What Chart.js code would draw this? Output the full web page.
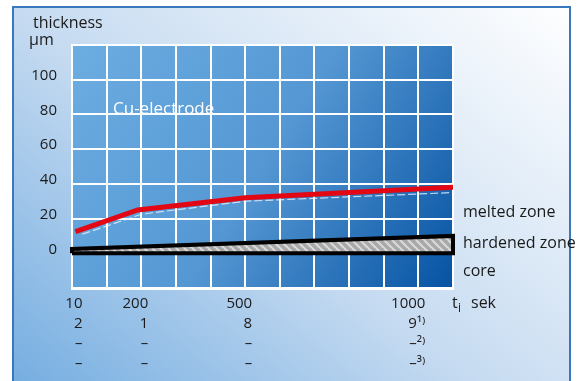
<!DOCTYPE html>
<html>
<head>
<meta charset="utf-8">
<script src="https://cdn.jsdelivr.net/npm/chart.js@4/dist/chart.umd.min.js"></script>
<style>
  html, body { margin: 0; padding: 0; background: #fff; }
  #wrap { width: 586px; height: 381px; }
</style>
</head>
<body>
<div id="wrap"><canvas id="thicknessChart" width="586" height="381"></canvas></div>
<script>
// Werte
const timeTicks = [10, 200, 500, 1000];
const row2 = ["2", "1", "8", "9\u00b9\u207e"];
const row3 = ["\u2013", "\u2013", "\u2013", "\u2013\u00b2\u207e"];
const row4 = ["\u2013", "\u2013", "\u2013", "\u2013\u00b3\u207e"];

const thicknessTicks = [0, 20, 40, 60, 80, 100];

const meltedTimes = [10, 190, 500, 800, 1100];
const meltedValues = [12.5, 25, 32, 35, 38];

const meltedInnerTimes = [30, 200, 500, 800, 1100];
const meltedInnerValues = [11, 22.5, 30, 32.5, 35];

const hardenedTimes = [0, 1100];
const hardenedTop = [2.5, 10];

const toPoints = (xs, ys) => xs.map((x, i) => ({ x: x, y: ys[i] }));

// geschlossene Fläche der gehärteten Zone
const hardenedShape = [
    { x: hardenedTimes[0], y: 0 },
    { x: hardenedTimes[0], y: hardenedTop[0] },
    { x: hardenedTimes[1], y: hardenedTop[1] },
    { x: hardenedTimes[1], y: 0 },
    { x: hardenedTimes[0], y: 0 }
];

// Schraffur-Muster
function makeHatch() {
    const c = document.createElement("canvas");
    c.width = 8; c.height = 8;
    const g = c.getContext("2d");
    g.fillStyle = "#a9a9a9";
    g.fillRect(0, 0, 8, 8);
    g.strokeStyle = "#d9d9d9";
    g.lineWidth = 2.2;
    g.beginPath();
    g.moveTo(-8, 0); g.lineTo(8, 16);
    g.moveTo(-1, -1); g.lineTo(9, 9);
    g.moveTo(8, 0); g.lineTo(16, 8);
    g.stroke();
    return g.createPattern(c, "repeat");
}

const FONT = "'Open Sans', 'DejaVu Sans', sans-serif";

const backgroundPlugin = {
    id: "backgrounds",
    beforeDraw(chart) {
        const ctx = chart.ctx;
        const a = chart.chartArea;
        ctx.save();
        ctx.fillStyle = "#ffffff";
        ctx.fillRect(0, 0, chart.width, chart.height);
        const og = ctx.createLinearGradient(13, 381, 420, -120);
        og.addColorStop(0, "#76aee1");
        og.addColorStop(0.45, "#c6dbf1");
        og.addColorStop(1, "#ffffff");
        ctx.fillStyle = og;
        ctx.fillRect(13, 7, 557, 380);
        ctx.strokeStyle = "#3a78bd";
        ctx.lineWidth = 2;
        ctx.strokeRect(13, 7, 557, 380);

        const pg = ctx.createLinearGradient(a.left, a.top, a.right, a.bottom);
        pg.addColorStop(0, "#6caee1");
        pg.addColorStop(0.5, "#5597d3");
        pg.addColorStop(1, "#0653a3");
        ctx.fillStyle = pg;
        ctx.fillRect(a.left, a.top, a.right - a.left, a.bottom - a.top);
        ctx.restore();
    }
};

const textPlugin = {
    id: "texts",
    afterDraw(chart) {
        const ctx = chart.ctx;
        const a = chart.chartArea;
        const yS = chart.scales.y;
        ctx.save();
        ctx.textBaseline = "middle";
        ctx.textAlign = "left";
        ctx.fillStyle = "#1a1a1a";
        ctx.font = "16px " + FONT;
        ctx.fillText("thickness", 33, 23);
        ctx.fillText("\u00b5m", 29, 40);

        ctx.fillStyle = "#ffffff";
        ctx.font = "17px " + FONT;
        ctx.fillText("Cu-electrode", 113, yS.getPixelForValue(83));

        ctx.fillStyle = "#1a1a1a";
        ctx.font = "16px " + FONT;
        const lx = a.right + 10;
        ctx.fillText("melted zone", lx, 212);
        ctx.fillText("hardened zone", lx, 243);
        ctx.fillText("core", lx, 271);

        ctx.font = "16px " + FONT;
        ctx.fillText("t", a.right - 1, 303);
        ctx.font = "12px " + FONT;
        ctx.fillText("i", a.right + 5, 309);
        ctx.font = "16px " + FONT;
        ctx.fillText("sek", a.right + 18, 303);
        ctx.restore();
    }
};

const ctx = document.getElementById("thicknessChart").getContext("2d");

new Chart(ctx, {
    type: "scatter",
    data: {
        datasets: [
            {
                label: "melted zone",
                data: toPoints(meltedTimes, meltedValues),
                showLine: true,
                borderColor: "#e30613",
                borderWidth: 5,
                pointRadius: 0,
                fill: false,
                order: 1
            },
            {
                label: "melted zone (inner)",
                data: toPoints(meltedInnerTimes, meltedInnerValues),
                showLine: true,
                borderColor: "rgba(230,242,252,0.8)",
                borderWidth: 1.2,
                borderDash: [8, 3],
                pointRadius: 0,
                fill: false,
                order: 2
            },
            {
                label: "hardened zone",
                data: hardenedShape,
                showLine: true,
                borderColor: "#000000",
                borderWidth: 4,
                borderJoinStyle: "miter",
                backgroundColor: makeHatch(),
                pointRadius: 0,
                fill: "shape",
                clip: false,
                order: 3
            }
        ]
    },
    options: {
        responsive: false,
        animation: false,
        layout: { padding: { left: 12, top: 45, right: 133, bottom: 0 } },
        plugins: {
            legend: { display: false },
            tooltip: { enabled: false }
        },
        scales: {
            x: {
                type: "linear",
                min: 0,
                max: 1100,
                afterBuildTicks: (scale) => {
                    const t = [];
                    for (let v = 0; v <= 1100; v += 100) t.push({ value: v });
                    t.splice(1, 0, { value: timeTicks[0] });
                    scale.ticks = t;
                },
                afterFit: (scale) => { scale.height = 93; },
                grid: {
                    color: (c) => (c.tick && c.tick.value === timeTicks[0]) ? "rgba(0,0,0,0)" : "#ffffff",
                    lineWidth: 2,
                    drawTicks: false
                },
                border: { color: "#ffffff", width: 3 },
                ticks: {
                    autoSkip: false,
                    maxRotation: 0,
                    align: "end",
                    labelOffset: 7,
                    padding: 6,
                    color: "#1a1a1a",
                    font: { family: FONT, size: 15, lineHeight: 1.3333 },
                    callback: (value) => {
                        const i = timeTicks.indexOf(value);
                        return i >= 0 ? [String(value), row2[i], row3[i], row4[i]] : "";
                    }
                }
            },
            y: {
                type: "linear",
                min: -20,
                max: 120,
                afterFit: (scale) => { scale.width = 60; },
                grid: { color: "#ffffff", lineWidth: 2, drawTicks: false },
                border: { color: "#ffffff", width: 2 },
                ticks: {
                    stepSize: 20,
                    padding: 15,
                    labelOffset: -4,
                    color: "#1a1a1a",
                    font: { family: FONT, size: 15 },
                    callback: (value) => thicknessTicks.includes(value) ? String(value) : ""
                }
            }
        }
    },
    plugins: [backgroundPlugin, textPlugin]
});
</script>
</body>
</html>
